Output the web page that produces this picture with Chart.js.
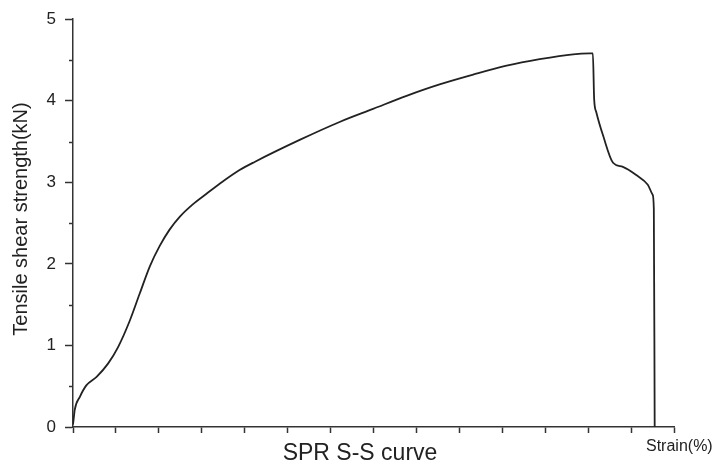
<!DOCTYPE html>
<html>
<head>
<meta charset="utf-8">
<script src="https://cdn.jsdelivr.net/npm/chart.js@4/dist/chart.umd.min.js"></script>
<style>
  html, body { margin: 0; padding: 0; background: #fff; }
  #wrap { width: 723px; height: 469px; }
</style>
</head>
<body>
<div id="wrap"><canvas id="ss-chart"></canvas></div>
<script>
// SPR S-S curve - strain (tick units, no labels) vs tensile shear strength (kN)

const strain = [0.0, 0.02, 0.04, 0.16, 0.31, 0.55, 0.82, 1.05, 1.32, 1.55, 1.79, 2.02, 2.25, 2.49, 2.79,
  3.11, 3.49, 3.88, 4.23, 5.28, 6.21, 6.99, 7.77, 8.54, 9.32, 10.10, 10.87, 11.65, 12.04, 12.11,
  12.14, 12.19, 12.35, 12.58, 12.81, 13.12, 13.39, 13.50, 13.53, 13.55];
const strength = [0.03, 0.12, 0.21, 0.37, 0.51, 0.615, 0.78, 0.98, 1.30, 1.63, 1.97, 2.22, 2.42, 2.58, 2.73,
  2.86, 3.01, 3.15, 3.25, 3.52, 3.74, 3.90, 4.06, 4.20, 4.32, 4.43, 4.51, 4.57, 4.58, 4.58,
  4.02, 3.86, 3.57, 3.24, 3.19, 3.09, 2.97, 2.85, 2.68, 0.0];

const yTicksMajor = [0, 1, 2, 3, 4, 5];
const yTicksMinor = [0.5, 1.5, 2.5, 3.5, 4.5];
const xTickCount = 14;

const yTitle = 'Tensile shear strength(kN)';
const xTitle = 'SPR S-S curve';
const xUnit = 'Strain(%)';

const FONT = '"Liberation Sans", Arial, sans-serif';
const INK = '#222';

// extra text + minor y ticks
const extras = {
  id: 'extras',
  afterDraw(chart) {
    const ctx = chart.ctx;
    const y = chart.scales.y;
    ctx.save();
    ctx.strokeStyle = '#333';
    ctx.lineWidth = 1.5;
    yTicksMinor.forEach(v => {
      const py = Math.round(y.getPixelForValue(v)) + 0.5;
      ctx.beginPath();
      ctx.moveTo(y.right - 4, py);
      ctx.lineTo(y.right, py);
      ctx.stroke();
    });

    ctx.fillStyle = INK;
    ctx.textAlign = 'center';
    ctx.textBaseline = 'middle';

    ctx.font = '20px ' + FONT;
    ctx.save();
    ctx.translate(21, 219);
    ctx.rotate(-Math.PI / 2);
    ctx.fillText(yTitle, 0, 0);
    ctx.restore();

    ctx.font = '23px ' + FONT;
    ctx.fillText(xTitle, 360, 454);

    ctx.font = '16px ' + FONT;
    ctx.textAlign = 'left';
    ctx.fillText(xUnit, 646, 447);
    ctx.restore();
  }
};

const ctx = document.getElementById('ss-chart').getContext('2d');
new Chart(ctx, {
  type: 'scatter',
  data: {
    datasets: [{
      data: strain.map((s, i) => ({ x: s, y: strength[i] })),
      showLine: true,
      borderColor: INK,
      borderWidth: 1.8,
      pointRadius: 0,
      cubicInterpolationMode: 'monotone',
      fill: false
    }]
  },
  options: {
    responsive: true,
    maintainAspectRatio: false,
    animation: false,
    layout: { padding: { top: 16, right: 49, left: 0, bottom: 0 } },
    plugins: { legend: { display: false }, tooltip: { enabled: false } },
    scales: {
      x: {
        type: 'linear',
        min: 0,
        max: xTickCount,
        afterFit: scale => { scale.height = 42; },
        afterBuildTicks: scale => {
          scale.ticks = Array.from({ length: xTickCount + 1 }, (_, i) => ({ value: i }));
        },
        ticks: { callback: () => '' },
        grid: { drawOnChartArea: false, drawTicks: true, tickLength: 6, tickColor: '#333', tickWidth: 1.5 },
        border: { display: true, color: '#333', width: 1.5 }
      },
      y: {
        min: 0,
        max: 5,
        afterFit: scale => { scale.width = 73; },
        afterBuildTicks: scale => {
          scale.ticks = yTicksMajor.map(v => ({ value: v }));
        },
        ticks: {
          color: INK,
          padding: 9,
          font: { family: FONT, size: 17 },
          callback: v => String(v)
        },
        grid: { drawOnChartArea: false, drawTicks: true, tickLength: 8, tickColor: '#333', tickWidth: 1.5 },
        border: { display: true, color: '#333', width: 1.5 }
      }
    }
  },
  plugins: [extras]
});
</script>
</body>
</html>
